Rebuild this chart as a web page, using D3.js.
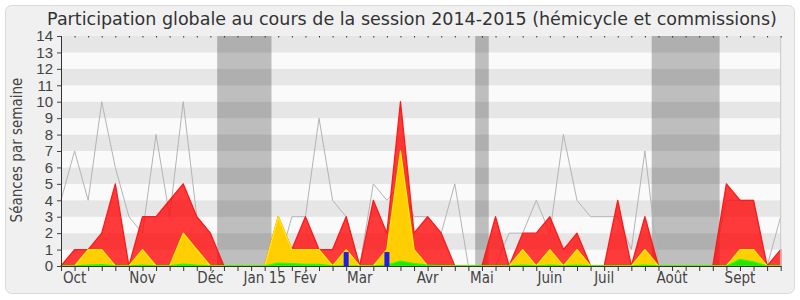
<!DOCTYPE html>
<html>
<head>
<meta charset="utf-8">
<script src="https://cdn.jsdelivr.net/npm/d3@7"></script>
<style>
  body { margin: 0; background: #fff; }
  svg { display: block; font-family: "DejaVu Sans Condensed", "DejaVu Sans", sans-serif; }
</style>
</head>
<body>
<svg id="chart" width="800" height="300"></svg>
<script>
// one entry per week of the session, index 0..53
const weeks = d3.range(54);

// red area: présences
const presences = [0, 1, 1, 2, 5, 0, 3, 3, 4, 5, 3, 2, 0, 0, 0, 0, 3, 1, 3, 1,
  1, 3, 0, 4, 2, 10, 2, 3, 2, 0, 0, 0, 3, 0, 2, 2, 3, 1, 2, 0,
  0, 4, 0, 3, 0, 0, 0, 0, 0, 5, 4, 4, 0, 1];

// yellow area: interventions
const interventions = [0, 0, 1, 1, 0, 0, 1, 0, 0, 2, 1, 0, 0, 0, 0, 0, 3, 1, 1, 1,
  0, 1, 0, 0, 1, 7, 1, 0, 0, 0, 0, 0, 0, 0, 1, 0, 1, 0, 1, 0,
  0, 0, 0, 1, 0, 0, 0, 0, 0, 0, 1, 1, 0, 0];

// green area: small contributions
const greenValues = [0, 0, 0.05, 0.08, 0, 0, 0.05, 0, 0, 0.12, 0.05, 0, 0, 0, 0, 0, 0.18, 0.15, 0.1, 0.1,
  0, 0, 0, 0, 0.05, 0.3, 0.15, 0.05, 0, 0, 0, 0, 0, 0, 0.05, 0, 0.05, 0, 0.05, 0,
  0, 0, 0, 0.05, 0, 0, 0, 0, 0, 0, 0.4, 0.25, 0, 0];

// blue bars: questions orales
const questions = [{ week: 21, value: 0.85 }, { week: 24, value: 0.85 }];

// grey line: médiane des députés
const mediane = [4, 7, 4, 10, 6, 3, 2, 8, 3, 10, 3, 2, 0, 0, 0, 0, 0, 3, 3, 9,
  4, 3, 0, 5, 4, 5, 3, 3, 2, 5, 0, 0, 0, 2, 2, 4, 2, 8, 4, 3,
  3, 3, 1, 7, 0, 0, 0, 0, 0, 4, 4, 4, 0, 3];

// parliamentary holidays, in week units
const vacances = [[11.5, 15.5], [30.5, 31.5], [43.5, 48.5]];

const monthLabels = ["Oct", "Nov", "Déc", "Jan 15", "Fév", "Mar", "Avr", "Mai", "Juin", "Juil", "Août", "Sept"];
const monthWeeks = [1, 6, 11, 15, 18, 22, 27, 31, 36, 40, 45, 50];

const yTicks = [0, 1, 2, 3, 4, 5, 6, 7, 8, 9, 10, 11, 12, 13, 14];

const title = "Participation globale au cours de la session 2014-2015 (hémicycle et commissions)";

const svg = d3.select("#chart");
const margin = { top: 36, right: 19.3, bottom: 34, left: 61 };
const width = 800, height = 300;

const x = d3.scaleLinear()
  .domain([0, weeks.length - 1])
  .range([margin.left, width - margin.right]);
const y = d3.scaleLinear()
  .domain([0, 14])
  .range([height - margin.bottom, margin.top]);

// frame
svg.append("rect")
  .attr("x", 5.5).attr("y", 5.5)
  .attr("width", 789).attr("height", 288)
  .attr("rx", 6)
  .attr("fill", "#f0f0f0")
  .attr("stroke", "#dadada");

// stripes
svg.append("g")
  .selectAll("rect")
  .data(yTicks.slice(0, -1))
  .join("rect")
  .attr("x", x(0))
  .attr("y", (d) => y(d + 1))
  .attr("width", x(weeks.length - 1) - x(0))
  .attr("height", (d) => y(d) - y(d + 1))
  .attr("fill", (d) => (d % 2 ? "#e6e6e6" : "#fafafa"));

// holidays
svg.append("g")
  .selectAll("rect")
  .data(vacances)
  .join("rect")
  .attr("x", (d) => x(d[0]))
  .attr("y", y(14))
  .attr("width", (d) => x(d[1]) - x(d[0]))
  .attr("height", y(0) - y(14))
  .attr("fill", "#000")
  .attr("fill-opacity", 0.24);

// median line (under the areas)
svg.append("path")
  .datum(weeks)
  .attr("fill", "none")
  .attr("stroke", "#b4b4b4")
  .attr("stroke-width", 1)
  .attr("d", d3.line().x((i) => x(i)).y((i) => y(mediane[i])));

function drawArea(values, fill, stroke, opacity) {
  svg.append("path")
    .datum(weeks)
    .attr("fill", fill)
    .attr("fill-opacity", opacity)
    .attr("stroke", stroke)
    .attr("stroke-width", 1.3)
    .attr("stroke-linejoin", "round")
    .attr("d", d3.area().x((i) => x(i)).y0(y(0)).y1((i) => y(values[i])));
}

drawArea(presences, "#ff0000", "#ff1a1a", 0.77);
drawArea(interventions, "#ffd700", "#ffee00", 0.95);
drawArea(greenValues, "#22e000", "#22ff00", 0.95);

svg.append("g")
  .selectAll("rect")
  .data(questions)
  .join("rect")
  .attr("x", (d) => x(d.week) - 2.5)
  .attr("y", (d) => y(d.value))
  .attr("width", 5)
  .attr("height", (d) => y(0) - y(d.value))
  .attr("fill", "#1e1ee6");

// right border
svg.append("line")
  .attr("x1", x(weeks.length - 1)).attr("x2", x(weeks.length - 1))
  .attr("y1", y(14)).attr("y2", y(0))
  .attr("stroke", "#c8c8c8");

// axes
svg.append("g")
  .attr("transform", `translate(${margin.left},0)`)
  .call(d3.axisLeft(y).tickValues(yTicks).tickSize(4).tickSizeOuter(0).tickPadding(4))
  .call((g) => g.select(".domain").attr("stroke", "#333"))
  .call((g) => g.selectAll(".tick line").attr("stroke", "#444"))
  .call((g) => g.selectAll("text")
    .attr("fill", "#444")
    .attr("font-size", 15)
    .attr("font-family", null));

svg.append("g")
  .attr("transform", `translate(0,${y(0)})`)
  .call(d3.axisBottom(x).tickValues(weeks).tickSize(5).tickSizeOuter(0).tickFormat(""))
  .call((g) => g.select(".domain").attr("stroke", "#333"))
  .call((g) => g.selectAll(".tick line").attr("stroke", "#333"));

svg.append("g")
  .attr("transform", `translate(0,${y(14)})`)
  .call(d3.axisTop(x).tickValues(weeks).tickSize(-1.5).tickSizeOuter(0).tickFormat(""))
  .call((g) => g.select(".domain").remove())
  .call((g) => g.selectAll(".tick line").attr("stroke", "#333"));

svg.append("g")
  .selectAll("text")
  .data(monthLabels)
  .join("text")
  .attr("x", (d, i) => x(monthWeeks[i]))
  .attr("y", 283)
  .attr("text-anchor", "middle")
  .attr("font-size", 15)
  .attr("fill", "#444")
  .text((d) => d);

// y title
svg.append("text")
  .attr("transform", "translate(22,150) rotate(-90)")
  .attr("text-anchor", "middle")
  .attr("font-size", 15)
  .attr("fill", "#444")
  .text("Séances par semaine");

// title
svg.append("text")
  .attr("x", 412)
  .attr("y", 25)
  .attr("text-anchor", "middle")
  .attr("font-family", "DejaVu Sans, sans-serif")
  .attr("font-size", 17.5)
  .attr("fill", "#333")
  .text(title);
</script>
</body>
</html>
